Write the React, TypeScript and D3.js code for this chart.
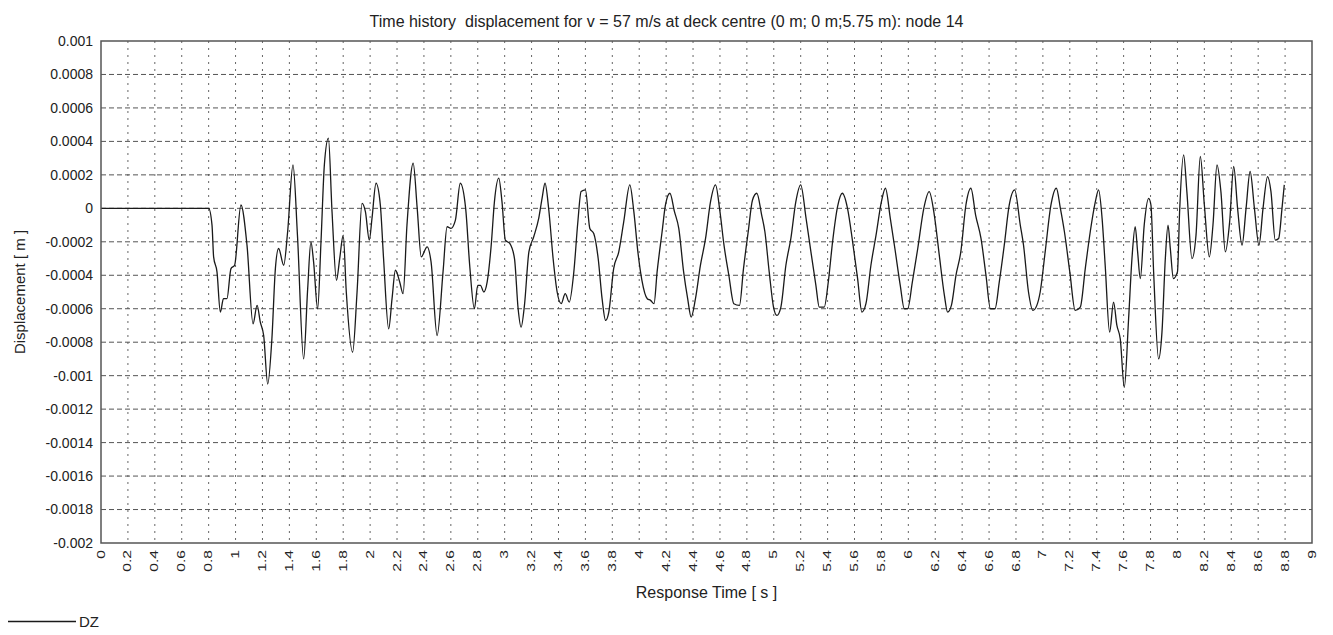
import React, { useEffect, useRef } from 'react';
import * as d3 from 'd3';

const title = 'Time history  displacement for v = 57 m/s at deck centre (0 m; 0 m;5.75 m): node 14';

const yTicks = [0.001, 0.0008, 0.0006, 0.0004, 0.0002, 0, -0.0002, -0.0004, -0.0006, -0.0008, -0.001,
  -0.0012, -0.0014, -0.0016, -0.0018, -0.002];
const yLabels = ['0.001', '0.0008', '0.0006', '0.0004', '0.0002', '0', '-0.0002', '-0.0004', '-0.0006',
  '-0.0008', '-0.001', '-0.0012', '-0.0014', '-0.0016', '-0.0018', '-0.002'];

const xLabels = ['0', '0.2', '0.4', '0.6', '0.8', '1', '1.2', '1.4', '1.6', '1.8', '2', '2.2', '2.4', '2.6',
  '2.8', '3', '3.2', '3.4', '3.6', '3.8', '4', '4.2', '4.4', '4.6', '4.8', '5', '5.2', '5.4', '5.6', '5.8',
  '6', '6.2', '6.4', '6.6', '6.8', '7', '7.2', '7.4', '7.6', '7.8', '8', '8.2', '8.4', '8.6', '8.8', '9'];

// response time [s]
const time = [
  0, 0.8, 0.825, 0.837, 0.862, 0.887, 0.91, 0.936, 0.966, 0.993, 1.04, 1.085, 1.13, 1.16, 1.184, 1.209,
  1.239, 1.27, 1.296, 1.32, 1.358, 1.387, 1.427, 1.46, 1.506, 1.536, 1.56, 1.58, 1.61, 1.635, 1.66, 1.69,
  1.717, 1.75, 1.774, 1.8, 1.823, 1.87, 1.903, 1.94, 1.965, 1.994, 2.014, 2.044, 2.076, 2.1, 2.138, 2.163,
  2.188, 2.22, 2.245, 2.274, 2.32, 2.35, 2.38, 2.424, 2.453, 2.498, 2.542, 2.572, 2.6, 2.634, 2.67, 2.71,
  2.74, 2.775, 2.8, 2.82, 2.845, 2.87, 2.9, 2.924, 2.956, 2.98, 3.005, 3.038, 3.073, 3.1, 3.122, 3.147,
  3.18, 3.216, 3.253, 3.278, 3.3, 3.328, 3.36, 3.39, 3.42, 3.45, 3.48, 3.514, 3.544, 3.568, 3.6, 3.633,
  3.662, 3.695, 3.724, 3.75, 3.774, 3.81, 3.848, 3.885, 3.93, 3.96, 3.99, 4.02, 4.06, 4.084, 4.11, 4.133,
  4.17, 4.195, 4.228, 4.262, 4.294, 4.33, 4.36, 4.386, 4.418, 4.455, 4.493, 4.53, 4.567, 4.6, 4.63, 4.666,
  4.703, 4.745, 4.775, 4.81, 4.842, 4.874, 4.91, 4.934, 4.966, 4.998, 5.023, 5.053, 5.09, 5.127, 5.164,
  5.2, 5.24, 5.276, 5.313, 5.338, 5.375, 5.405, 5.437, 5.474, 5.51, 5.548, 5.586, 5.623, 5.655, 5.685,
  5.722, 5.76, 5.8, 5.83, 5.866, 5.9, 5.94, 5.97, 5.995, 6.03, 6.07, 6.115, 6.155, 6.193, 6.23, 6.268,
  6.292, 6.32, 6.354, 6.39, 6.428, 6.465, 6.5, 6.54, 6.577, 6.61, 6.644, 6.676, 6.713, 6.75, 6.79, 6.832,
  6.856, 6.893, 6.926, 6.955, 6.98, 7.017, 7.06, 7.1, 7.13, 7.16, 7.2, 7.24, 7.278, 7.315, 7.352, 7.39,
  7.414, 7.44, 7.463, 7.496, 7.525, 7.55, 7.575, 7.605, 7.637, 7.662, 7.686, 7.704, 7.724, 7.753, 7.786,
  7.803, 7.823, 7.86, 7.885, 7.91, 7.93, 7.947, 7.97, 8.0, 8.016, 8.046, 8.07, 8.108, 8.138, 8.17, 8.2,
  8.237, 8.264, 8.294, 8.323, 8.356, 8.388, 8.418, 8.447, 8.48, 8.51, 8.54, 8.572, 8.606, 8.636, 8.67,
  8.695, 8.727, 8.752, 8.777, 8.794
];

// DZ displacement [m]
const dz = [
  0, 0, -0.0001, -0.00029, -0.00038, -0.00062, -0.00054, -0.00054, -0.00036, -0.00034, 0.00002, -0.00022,
  -0.00069, -0.00058, -0.00068, -0.00076, -0.00105, -0.00078, -0.00036, -0.00024, -0.00034, -0.00014,
  0.00026, -0.00016, -0.0009, -0.00048, -0.0002, -0.00032, -0.0006, -0.0002, 0.00026, 0.00042, -0.00002,
  -0.00043, -0.0003, -0.00016, -0.0005, -0.00086, -0.0005, 0.00003, -0.00002, -0.00019, -0.00006, 0.00015,
  0.00002, -0.0003, -0.00072, -0.00054, -0.00037, -0.00044, -0.00051, -0.0001, 0.00027, 0, -0.00029,
  -0.00023, -0.00032, -0.00076, -0.00038, -0.00011, -0.00012, -0.00007, 0.00015, 0, -0.00034, -0.0006,
  -0.00046, -0.00046, -0.0005, -0.00044, -0.00022, 0.00004, 0.00018, 0.00004, -0.00019, -0.00021, -0.0003,
  -0.0006, -0.00071, -0.00058, -0.00026, -0.00017, -0.00006, 0.00006, 0.00015, -0.00001, -0.0003, -0.0005,
  -0.00057, -0.00051, -0.00056, -0.00038, -0.00008, 0.0001, 0.00011, -0.00012, -0.00015, -0.0003,
  -0.00054, -0.00067, -0.00062, -0.00036, -0.00026, -0.00008, 0.00014, -0.00002, -0.00026, -0.00043,
  -0.00054, -0.00055, -0.00057, -0.00038, -0.00014, 0.00002, 0.00009, -0.00002, -0.00012, -0.00038,
  -0.00054, -0.00065, -0.00054, -0.00034, -0.00018, 0.00004, 0.00014, -0.00002, -0.00022, -0.0004,
  -0.00057, -0.00058, -0.00036, -0.00014, 0.00005, 0.00009, -0.00004, -0.00014, -0.00038, -0.00059,
  -0.00064, -0.00059, -0.00034, -0.00018, 0.00004, 0.00014, -0.00006, -0.00026, -0.00046, -0.00059,
  -0.00059, -0.00044, -0.0002, 0.00001, 0.00009, 0, -0.0002, -0.00042, -0.00062, -0.00057, -0.00034,
  -0.00016, 0.00004, 0.00012, -0.00006, -0.00024, -0.00046, -0.0006, -0.0006, -0.00044, -0.00024, 0,
  0.0001, -0.00004, -0.00028, -0.00052, -0.00062, -0.00058, -0.0004, -0.00026, 0.00002, 0.00012, -0.00004,
  -0.00018, -0.0004, -0.0006, -0.0006, -0.00044, -0.00022, 0.00002, 0.00011, -0.0001, -0.00022, -0.0005,
  -0.00061, -0.00058, -0.0005, -0.00026, 0.00002, 0.00012, 0, -0.00014, -0.00038, -0.00061, -0.00059,
  -0.00036, -0.00014, 0.00004, 0.00011, -0.00006, -0.00034, -0.00074, -0.00056, -0.0007, -0.00078,
  -0.00107, -0.00066, -0.0003, -0.00011, -0.00026, -0.00042, -0.0001, 0.00006, 0.00002, -0.00038, -0.0009,
  -0.00074, -0.0003, -0.0001, -0.00024, -0.00042, -0.00038, -0.00002, 0.00032, 0.0001, -0.0003, -0.00016,
  0.00031, 0.00002, -0.00029, -0.0001, 0.00026, 0.0001, -0.00026, -0.00008, 0.00025, 0, -0.00022, 0,
  0.00022, 0, -0.00022, 0, 0.00019, 0.0001, -0.00019, -0.00018, 0, 0.00014
];

const W = 1333;
const H = 635;
const margin = { top: 41, right: 21, bottom: 92, left: 101 };
const FONT = '"Liberation Sans", Arial, sans-serif';

const App = () => {
  const svgRef = useRef<SVGSVGElement>(null);

  useEffect(() => {
    const svg = d3.select(svgRef.current);
    svg.selectAll('*').remove();

    const width = W - margin.left - margin.right;
    const height = H - margin.top - margin.bottom;

    const x = d3.scaleLinear().domain([0, 9]).range([0, width]);
    const y = d3.scaleLinear().domain([-0.002, 0.001]).range([height, 0]);

    svg.append('rect').attr('width', W).attr('height', H).attr('fill', '#fff');

    svg
      .append('text')
      .attr('x', W / 2)
      .attr('y', 27)
      .attr('text-anchor', 'middle')
      .attr('font-family', FONT)
      .attr('font-size', 16)
      .attr('fill', '#222')
      .style('white-space', 'pre')
      .text(title);

    const g = svg.append('g').attr('transform', `translate(${margin.left},${margin.top})`);

    // grid
    g.selectAll('.vgrid')
      .data(xLabels.slice(1, -1))
      .enter()
      .append('line')
      .attr('x1', d => x(+d))
      .attr('x2', d => x(+d))
      .attr('y1', 0)
      .attr('y2', height)
      .attr('stroke', '#666')
      .attr('stroke-width', 1)
      .attr('stroke-dasharray', '2,5');

    g.selectAll('.hgrid')
      .data(yTicks.slice(1, -1))
      .enter()
      .append('line')
      .attr('x1', 0)
      .attr('x2', width)
      .attr('y1', d => y(d))
      .attr('y2', d => y(d))
      .attr('stroke', '#555')
      .attr('stroke-width', 1)
      .attr('stroke-dasharray', '5,3');

    // series
    const pts = time.map((t, i) => [t, dz[i]] as [number, number]);
    const line = d3
      .line<[number, number]>()
      .x(d => x(d[0]))
      .y(d => y(d[1]))
      .curve(d3.curveMonotoneX);

    g.append('path')
      .datum(pts)
      .attr('d', line)
      .attr('fill', 'none')
      .attr('stroke', '#1a1a1a')
      .attr('stroke-width', 1.3)
      .attr('stroke-linejoin', 'round');

    // frame
    g.append('rect')
      .attr('width', width)
      .attr('height', height)
      .attr('fill', 'none')
      .attr('stroke', '#555')
      .attr('stroke-width', 1.5);

    // y tick labels
    g.selectAll('.ylab')
      .data(yTicks)
      .enter()
      .append('text')
      .attr('x', -8)
      .attr('y', d => y(d))
      .attr('dy', '0.35em')
      .attr('text-anchor', 'end')
      .attr('font-family', FONT)
      .attr('font-size', 14)
      .attr('fill', '#222')
      .text((d, i) => yLabels[i]);

    // x tick labels (rotated, tall and narrow)
    g.selectAll('.xlab')
      .data(xLabels)
      .enter()
      .append('text')
      .attr('transform', d => `translate(${x(+d)},${height + 7}) rotate(-90) scale(1.2,0.78)`)
      .attr('dy', '0.35em')
      .attr('text-anchor', 'end')
      .attr('font-family', FONT)
      .attr('font-size', 13)
      .attr('fill', '#222')
      .text(d => d);

    // axis titles
    svg
      .append('text')
      .attr('x', margin.left + width / 2)
      .attr('y', 598)
      .attr('text-anchor', 'middle')
      .attr('font-family', FONT)
      .attr('font-size', 16)
      .attr('fill', '#222')
      .text('Response Time [ s ]');

    svg
      .append('text')
      .attr('transform', `translate(25,${margin.top + height / 2}) rotate(-90)`)
      .attr('text-anchor', 'middle')
      .attr('font-family', FONT)
      .attr('font-size', 15)
      .attr('fill', '#222')
      .text('Displacement [ m ]');

    // legend
    svg
      .append('line')
      .attr('x1', 8)
      .attr('x2', 76)
      .attr('y1', 621.5)
      .attr('y2', 621.5)
      .attr('stroke', '#1a1a1a')
      .attr('stroke-width', 1.3);

    svg
      .append('text')
      .attr('x', 79)
      .attr('y', 627)
      .attr('font-family', FONT)
      .attr('font-size', 15)
      .attr('fill', '#222')
      .text('DZ');
  }, []);

  return (
    <svg
      ref={svgRef}
      width={W}
      height={H}
      style={{ position: 'absolute', left: 0, top: 0 }}
    />
  );
};

export default App;
